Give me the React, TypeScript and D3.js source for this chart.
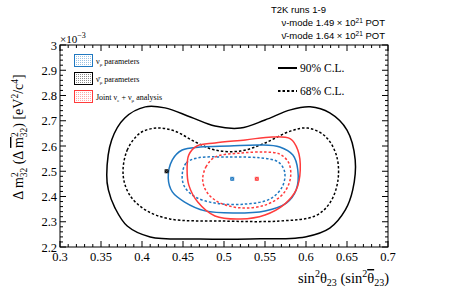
import * as d3 from "d3";
import React from "react";

// contour points [sin^2 theta23, dm2 (1e-3 eV^2)]
const nuBarCL90: [number, number][] = [
  [0.357, 2.485], [0.363, 2.624], [0.379, 2.711], [0.404, 2.755], [0.428, 2.751],
  [0.459, 2.715], [0.489, 2.679], [0.52, 2.671], [0.55, 2.703], [0.581, 2.743],
  [0.605, 2.755], [0.629, 2.731], [0.65, 2.663], [0.66, 2.545], [0.657, 2.426],
  [0.648, 2.347], [0.629, 2.275], [0.599, 2.24], [0.532, 2.232], [0.471, 2.232],
  [0.41, 2.24], [0.382, 2.283], [0.367, 2.355], [0.359, 2.426],
];
const nuBarCL68: [number, number][] = [
  [0.377, 2.485], [0.382, 2.584], [0.398, 2.652], [0.418, 2.671], [0.44, 2.659],
  [0.465, 2.616], [0.489, 2.584], [0.52, 2.58], [0.55, 2.612], [0.581, 2.659],
  [0.602, 2.671], [0.623, 2.64], [0.637, 2.564], [0.639, 2.465], [0.629, 2.374],
  [0.611, 2.323], [0.568, 2.303], [0.495, 2.303], [0.434, 2.311], [0.404, 2.347],
  [0.385, 2.406],
];
const nuCL90: [number, number][] = [
  [0.432, 2.473], [0.437, 2.545], [0.449, 2.584], [0.471, 2.596], [0.507, 2.6],
  [0.544, 2.604], [0.568, 2.596], [0.584, 2.564], [0.59, 2.505], [0.588, 2.426],
  [0.576, 2.374], [0.55, 2.343], [0.513, 2.335], [0.477, 2.343], [0.452, 2.378],
  [0.437, 2.418],
];
const nuCL68: [number, number][] = [
  [0.449, 2.485], [0.454, 2.533], [0.468, 2.553], [0.507, 2.556], [0.544, 2.553],
  [0.566, 2.537], [0.574, 2.497], [0.571, 2.438], [0.556, 2.39], [0.526, 2.37],
  [0.489, 2.374], [0.465, 2.398], [0.452, 2.438],
];
const jointCL90: [number, number][] = [
  [0.455, 2.505], [0.457, 2.564], [0.467, 2.6], [0.489, 2.612], [0.526, 2.624],
  [0.559, 2.636], [0.581, 2.628], [0.59, 2.584], [0.593, 2.505], [0.588, 2.426],
  [0.574, 2.37], [0.55, 2.327], [0.52, 2.311], [0.489, 2.323], [0.468, 2.378],
  [0.457, 2.446],
];
const jointCL68: [number, number][] = [
  [0.474, 2.465], [0.478, 2.517], [0.489, 2.556], [0.52, 2.572], [0.55, 2.576],
  [0.568, 2.568], [0.579, 2.533], [0.581, 2.473], [0.572, 2.41], [0.55, 2.366],
  [0.52, 2.355], [0.493, 2.378], [0.479, 2.418],
];
const bestFits = [
  { name: "nubar", x: 0.43, y: 2.5, color: "#000000" },
  { name: "nu", x: 0.51, y: 2.47, color: "#1f78c1" },
  { name: "joint", x: 0.54, y: 2.47, color: "#ff3b3b" },
];
const xTicks = [0.3, 0.35, 0.4, 0.45, 0.5, 0.55, 0.6, 0.65, 0.7];
const yTicks = [2.2, 2.3, 2.4, 2.5, 2.6, 2.7, 2.8, 2.9, 3.0];

const BLUE = "#1f78c1";
const RED = "#ff3b3b";

const W = 457;
const H = 296;
const M = { left: 60, right: 69, top: 45, bottom: 49 };

export default function App() {
  const x = d3.scaleLinear().domain([0.3, 0.7]).range([M.left, W - M.right]);
  const y = d3.scaleLinear().domain([2.2, 3.0]).range([H - M.bottom, M.top]);
  const line = d3
    .line<[number, number]>()
    .x((d) => x(d[0]))
    .y((d) => y(d[1]))
    .curve(d3.curveCatmullRomClosed.alpha(0.5));

  const xMinor = d3.range(0.3, 0.7001, 0.01);
  const yMinor = d3.range(2.2, 3.0001, 0.02);
  const x0 = x(0.3), x1 = x(0.7), y0 = y(2.2), y1 = y(3.0);
  const serif = "'Liberation Serif', 'Times New Roman', serif";
  const sans = "'Liberation Sans', Arial, sans-serif";

  const contours = [
    { d: nuBarCL90, c: "#000", dash: "none" },
    { d: nuBarCL68, c: "#000", dash: "2.5,2" },
    { d: nuCL90, c: BLUE, dash: "none" },
    { d: nuCL68, c: BLUE, dash: "2.5,2" },
    { d: jointCL90, c: RED, dash: "none" },
    { d: jointCL68, c: RED, dash: "2.5,2" },
  ];

  const legend = [
    { c: BLUE, pat: "patB", label: <>ν<tspan fontSize={5} dy={2}>μ</tspan><tspan dy={-2}> parameters</tspan></> },
    { c: "#000", pat: "patK", label: <>ν̄<tspan fontSize={5} dy={2}>μ</tspan><tspan dy={-2}> parameters</tspan></> },
    { c: RED, pat: "patR", label: <>Joint  ν<tspan fontSize={5} dy={2}>e</tspan><tspan dy={-2}> + ν</tspan><tspan fontSize={5} dy={2}>μ</tspan><tspan dy={-2}> analysis</tspan></> },
  ];

  return (
    <svg width={W} height={H} style={{ position: "absolute", left: 0, top: 0, background: "#fff" }}>
      <defs>
        {[["patB", BLUE], ["patK", "#000"], ["patR", RED]].map(([id, c]) => (
          <pattern key={id} id={id} width={2} height={2} patternUnits="userSpaceOnUse">
            <rect width={2} height={2} fill="#fff" />
            <rect width={1} height={1} fill={c} opacity={0.45} />
          </pattern>
        ))}
      </defs>

      {/* contours */}
      {contours.map((c, i) => (
        <path key={i} d={line(c.d) ?? ""} fill="none" stroke={c.c} strokeWidth={1.5} strokeDasharray={c.dash} />
      ))}

      {/* best fit markers */}
      {bestFits.map((b) => (
        <g key={b.name} transform={`translate(${x(b.x)},${y(b.y)})`}>
          <rect x={-2} y={-2} width={4} height={4} fill={b.color} />
          <path d="M-2,-2L2,2M-2,2L2,-2" stroke="#fff" strokeWidth={0.5} opacity={0.6} />
        </g>
      ))}

      {/* frame */}
      <rect x={x0} y={y1} width={x1 - x0} height={y0 - y1} fill="none" stroke="#000" strokeWidth={1} />

      {/* x ticks */}
      {xMinor.map((v, i) => {
        const major = i % 5 === 0;
        const l = major ? 6 : 3;
        return (
          <g key={"xt" + i} stroke="#000" strokeWidth={1}>
            <line x1={x(v)} x2={x(v)} y1={y0} y2={y0 - l} />
            <line x1={x(v)} x2={x(v)} y1={y1} y2={y1 + l} />
          </g>
        );
      })}
      {xTicks.map((v) => (
        <text key={"xl" + v} x={x(v)} y={y0 + 14} textAnchor="middle" fontFamily={serif} fontSize={12.5}>
          {d3.format("")(v)}
        </text>
      ))}

      {/* y ticks */}
      {yMinor.map((v, i) => {
        const major = i % 5 === 0;
        const l = major ? 6 : 3;
        return (
          <g key={"yt" + i} stroke="#000" strokeWidth={1}>
            <line x1={x0} x2={x0 + l} y1={y(v)} y2={y(v)} />
            <line x1={x1} x2={x1 - l} y1={y(v)} y2={y(v)} />
          </g>
        );
      })}
      {yTicks.map((v) => (
        <text key={"yl" + v} x={x0 - 3} y={y(v) + 4.5} textAnchor="end" fontFamily={serif} fontSize={12.5}>
          {d3.format("")(v)}
        </text>
      ))}
      <text x={x0} y={y1 - 2} fontFamily={serif} fontSize={11}>
        ×10<tspan fontSize={8} dy={-5}>−3</tspan>
      </text>

      {/* axis titles */}
      <text x={x1 + 1} y={283} textAnchor="end" fontFamily={serif} fontSize={14.5}>
        sin<tspan fontSize={10} dy={-6}>2</tspan><tspan dy={6}>θ</tspan><tspan fontSize={10} dy={3}>23</tspan>
        <tspan dy={-3}> (sin</tspan><tspan fontSize={10} dy={-6}>2</tspan><tspan dy={6} textDecoration="overline">θ</tspan>
        <tspan fontSize={10} dy={3}>23</tspan><tspan dy={-3}>)</tspan>
      </text>
      <text transform={`translate(23,137) rotate(-90)`} textAnchor="middle" fontFamily={serif} fontSize={14}>
        Δ m<tspan fontSize={9.5} dy={-5}>2</tspan><tspan fontSize={9.5} dx={-5} dy={9}>32</tspan>
        <tspan dy={-4}> (Δ </tspan><tspan textDecoration="overline">m</tspan><tspan fontSize={9.5} dy={-5}>2</tspan>
        <tspan fontSize={9.5} dx={-5} dy={9}>32</tspan><tspan dy={-4}>) [eV</tspan><tspan fontSize={9.5} dy={-5}>2</tspan>
        <tspan dy={5}>/c</tspan><tspan fontSize={9.5} dy={-5}>4</tspan><tspan dy={5}>]</tspan>
      </text>

      {/* top-right exposure text */}
      <g fontFamily={sans} fontSize={9.5}>
        <text x={271} y={13}>T2K runs 1-9</text>
        <text x={385} y={26} textAnchor="end">
          ν-mode 1.49 × 10<tspan fontSize={6.5} dy={-3.5}>21</tspan><tspan dy={3.5}> POT</tspan>
        </text>
        <text x={385} y={39} textAnchor="end">
          ν̄-mode 1.64 × 10<tspan fontSize={6.5} dy={-3.5}>21</tspan><tspan dy={3.5}> POT</tspan>
        </text>
      </g>

      {/* left legend */}
      {legend.map((l, i) => (
        <g key={"lg" + i} transform={`translate(0,${i * 18})`}>
          <rect x={74.5} y={54.5} width={18} height={12} fill={`url(#${l.pat})`} stroke={l.c} strokeWidth={1} />
          <text x={96} y={64} fontFamily={serif} fontSize={8}>{l.label}</text>
        </g>
      ))}

      {/* right legend */}
      <g fontFamily={serif} fontSize={11.5}>
        <line x1={278} x2={297} y1={68} y2={68} stroke="#000" strokeWidth={2} />
        <text x={300} y={72}>90% C.L.</text>
        <line x1={278} x2={297} y1={91} y2={91} stroke="#000" strokeWidth={2} strokeDasharray="2.5,2" />
        <text x={300} y={95}>68% C.L.</text>
      </g>
    </svg>
  );
}
